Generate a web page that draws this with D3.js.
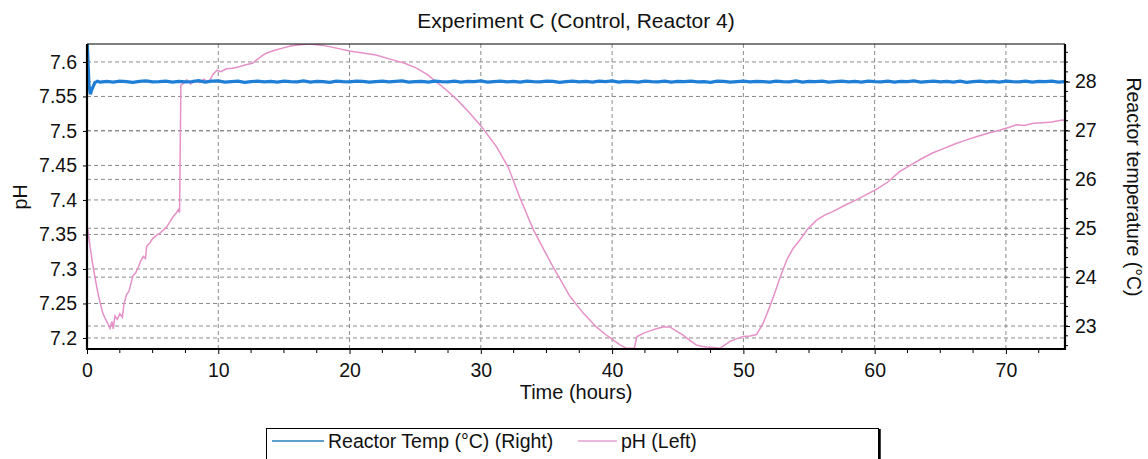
<!DOCTYPE html>
<html>
<head>
<meta charset="utf-8">
<script src="https://cdn.jsdelivr.net/npm/d3@7"></script>
<style>
  body { margin: 0; background: #fff; }
  svg { font-family: "Liberation Sans", Arial, sans-serif; }
  .grid line { stroke: #8a8a8a; stroke-dasharray: 4,3; stroke-width: 1; }
  .axis path, .axis line { stroke: #000; }
  .axis text { font-size: 19.5px; fill: #111; }
</style>
</head>
<body>
<svg class="chart" width="1148" height="459"></svg>
<script>
var title = "Experiment C (Control, Reactor 4)"
var hourTicks = [0, 10, 20, 30, 40, 50, 60, 70]
var phTicks = [7.2, 7.25, 7.3, 7.35, 7.4, 7.45, 7.5, 7.55, 7.6]
var phTickLabels = ["7.2", "7.25", "7.3", "7.35", "7.4", "7.45", "7.5", "7.55", "7.6"]
var tempTicks = [23, 24, 25, 26, 27, 28]
var legendNames = ["Reactor Temp (°C) (Right)", "pH (Left)"]

// [hour, degC]
var tempReadings = [
  [0, 28.95], [0.08, 28.4], [0.15, 27.95], [0.25, 27.74], [0.4, 27.86], [0.6, 27.98], [0.8, 28.01], [1.0, 27.99],
  [1.5, 28.005], [2.0, 27.99], [2.5, 28.01], [3.0, 28.0], [3.5, 27.985], [4.0, 28.005], [4.5, 28.015], [5.0, 27.995],
  [5.5, 28.0], [6.0, 28.01], [6.5, 27.99], [7.0, 28.005], [7.5, 27.995], [8.0, 28.0], [8.5, 28.02], [9.0, 27.99],
  [9.5, 28.01], [10.0, 28.015], [10.5, 27.99], [11.0, 28.0], [11.5, 28.01], [12.0, 27.985], [12.5, 28.0], [13.0, 28.01],
  [13.5, 27.995], [14.0, 28.005], [14.5, 27.99], [15.0, 28.01], [15.5, 28.0], [16.0, 27.995], [16.5, 28.015], [17.0, 27.99],
  [17.5, 28.005], [18.0, 28.0], [18.5, 27.985], [19.0, 28.01], [19.5, 28.0], [20.0, 27.995], [20.5, 28.01], [21.0, 28.005],
  [21.5, 27.99], [22.0, 28.0], [22.5, 28.01], [23.0, 27.995], [23.5, 28.005], [24.0, 28.015], [24.5, 27.99], [25.0, 28.0],
  [25.5, 28.005], [26.0, 27.99], [26.5, 28.01], [27.0, 28.0], [27.5, 27.995], [28.0, 28.01], [28.5, 27.99], [29.0, 28.005],
  [29.5, 28.0], [30.0, 28.015], [30.5, 27.99], [31.0, 28.0], [31.5, 28.01], [32.0, 27.995], [32.5, 28.005], [33.0, 27.99],
  [33.5, 28.01], [34.0, 28.0], [34.5, 27.995], [35.0, 28.01], [35.5, 28.005], [36.0, 27.985], [36.5, 28.0], [37.0, 28.01],
  [37.5, 27.995], [38.0, 28.005], [38.5, 27.99], [39.0, 28.01], [39.5, 28.0], [40.0, 28.015], [40.5, 27.99], [41.0, 28.005],
  [41.5, 28.0], [42.0, 27.99], [42.5, 28.01], [43.0, 28.0], [43.5, 27.995], [44.0, 28.01], [44.5, 27.99], [45.0, 28.005],
  [45.5, 28.0], [46.0, 28.01], [46.5, 27.995], [47.0, 28.0], [47.5, 27.985], [48.0, 28.01], [48.5, 28.005], [49.0, 27.99],
  [49.5, 28.0], [50.0, 28.01], [50.5, 27.995], [51.0, 28.005], [51.5, 28.0], [52.0, 27.99], [52.5, 28.01], [53.0, 28.0],
  [53.5, 27.995], [54.0, 28.015], [54.5, 27.99], [55.0, 28.005], [55.5, 28.0], [56.0, 28.01], [56.5, 27.99], [57.0, 28.0],
  [57.5, 28.01], [58.0, 27.995], [58.5, 28.005], [59.0, 27.99], [59.5, 28.01], [60.0, 28.0], [60.5, 27.995], [61.0, 28.01],
  [61.5, 27.99], [62.0, 28.005], [62.5, 28.0], [63.0, 28.015], [63.5, 27.99], [64.0, 28.0], [64.5, 28.01], [65.0, 27.995],
  [65.5, 28.005], [66.0, 27.99], [66.5, 28.01], [67.0, 27.985], [67.5, 28.0], [68.0, 28.01], [68.5, 27.995], [69.0, 28.005],
  [69.5, 27.99], [70.0, 28.01], [70.5, 28.0], [71.0, 27.995], [71.5, 28.01], [72.0, 27.99], [72.5, 28.005], [73.0, 28.0],
  [73.5, 28.01], [74.0, 27.99], [74.5, 28.0]
]

// [hour, pH]
var phReadings = [
  [0, 7.330], [0.05, 7.359], [0.25, 7.330], [0.45, 7.305], [0.6, 7.289], [0.8, 7.268], [1.0, 7.251], [1.2, 7.236],
  [1.37, 7.229], [1.55, 7.222], [1.75, 7.214], [1.9, 7.224], [2.0, 7.213], [2.13, 7.232], [2.3, 7.227], [2.5, 7.235],
  [2.7, 7.230], [2.8, 7.248], [3.0, 7.262], [3.2, 7.268], [3.5, 7.290], [3.7, 7.294], [3.9, 7.302], [4.1, 7.312],
  [4.3, 7.318], [4.45, 7.315], [4.55, 7.333], [4.8, 7.338], [5.0, 7.344], [5.3, 7.349], [5.5, 7.351], [5.8, 7.356],
  [6.07, 7.361], [6.3, 7.368], [6.57, 7.376], [6.8, 7.381], [6.95, 7.386], [7.05, 7.382], [7.1, 7.470], [7.15, 7.566],
  [7.4, 7.570], [7.6, 7.574], [7.9, 7.568], [8.2, 7.573], [8.6, 7.570], [8.9, 7.575], [9.2, 7.571], [9.4, 7.575],
  [9.6, 7.582], [9.9, 7.588], [10.2, 7.586], [10.6, 7.590], [11.1, 7.591], [11.6, 7.593], [12.1, 7.596], [12.6, 7.598],
  [13.0, 7.604], [13.4, 7.610], [13.7, 7.613], [14.3, 7.617], [14.9, 7.620], [15.5, 7.623], [16.2, 7.625], [17.0, 7.626],
  [18.0, 7.624], [19.0, 7.620], [20.0, 7.616], [21.0, 7.613], [22.0, 7.610], [23.3, 7.603], [24.2, 7.598], [25.1, 7.591],
  [25.9, 7.582], [26.6, 7.571], [27.4, 7.559], [28.2, 7.545], [29.1, 7.527], [30.06, 7.506], [31.2, 7.477], [32.1, 7.447],
  [33.0, 7.402], [34.0, 7.357], [34.8, 7.328], [35.5, 7.303], [36.2, 7.280], [36.8, 7.260], [37.8, 7.236], [38.8, 7.216],
  [39.5, 7.205], [40.1, 7.197], [40.6, 7.190], [41.1, 7.185], [41.7, 7.185], [41.8, 7.195], [41.9, 7.202], [42.4, 7.207],
  [43.0, 7.211], [43.5, 7.214], [43.9, 7.216], [44.4, 7.216], [44.9, 7.210], [45.4, 7.204], [45.9, 7.197], [46.4, 7.190],
  [46.8, 7.188], [47.2, 7.187], [47.7, 7.186], [48.2, 7.185], [48.6, 7.190], [49.0, 7.195], [49.5, 7.199], [50.0, 7.202],
  [50.5, 7.203], [51.0, 7.205], [51.5, 7.221], [51.9, 7.240], [52.3, 7.260], [52.8, 7.288], [53.3, 7.313], [53.8, 7.330],
  [54.3, 7.342], [54.9, 7.358], [55.6, 7.371], [56.2, 7.378], [56.8, 7.383], [57.7, 7.392], [58.6, 7.400], [59.4, 7.408],
  [60.2, 7.416], [61.0, 7.426], [61.9, 7.441], [62.6, 7.449], [63.5, 7.459], [64.4, 7.468], [65.2, 7.474], [66.1, 7.481],
  [67.0, 7.487], [67.8, 7.492], [68.7, 7.497], [69.5, 7.501], [70.2, 7.505], [70.8, 7.509], [71.4, 7.508], [72.1, 7.511],
  [72.8, 7.512], [73.5, 7.513], [74.3, 7.516], [74.5, 7.515]
]

var blue = "#1f7fd6"
var pink = "#e590c8"

var plotLeft = 87, plotRight = 1065, plotTop = 44, plotBottom = 349

var svg = d3.select(".chart")

var x = d3.scaleLinear().domain([0, 74.5]).range([plotLeft, plotRight])
var yPH = d3.scaleLinear().domain([7.184, 7.626]).range([plotBottom, plotTop])
var yT = d3.scaleLinear().domain([22.53, 28.77]).range([plotBottom, plotTop])

// grid
var grid = svg.append("g").attr("class", "grid")
grid.selectAll(".gx").data(hourTicks.slice(1))
  .enter().append("line")
  .attr("x1", d => x(d)).attr("x2", d => x(d))
  .attr("y1", plotTop).attr("y2", plotBottom)
grid.selectAll(".gp").data(phTicks)
  .enter().append("line")
  .attr("x1", plotLeft).attr("x2", plotRight)
  .attr("y1", d => yPH(d)).attr("y2", d => yPH(d))
grid.selectAll(".gt").data(tempTicks)
  .enter().append("line")
  .attr("x1", plotLeft).attr("x2", plotRight)
  .attr("y1", d => yT(d)).attr("y2", d => yT(d))

svg.append("clipPath").attr("id", "plot")
  .append("rect").attr("x", plotLeft).attr("y", plotTop)
  .attr("width", plotRight - plotLeft).attr("height", plotBottom - plotTop)

var lines = svg.append("g").attr("clip-path", "url(#plot)")

lines.append("path")
  .datum(phReadings)
  .attr("fill", "none")
  .attr("stroke", pink)
  .attr("stroke-width", 1.5)
  .attr("d", d3.line().x(d => x(d[0])).y(d => yPH(d[1])))

lines.append("path")
  .datum(tempReadings)
  .attr("fill", "none")
  .attr("stroke", blue)
  .attr("stroke-width", 3.2)
  .attr("d", d3.line().x(d => x(d[0])).y(d => yT(d[1])))

// axes
var xAxis = svg.append("g").attr("class", "axis")
  .attr("transform", "translate(0," + plotBottom + ")")
  .call(d3.axisBottom(x).tickValues(hourTicks).tickSize(5).tickPadding(9).tickFormat(d3.format("d")))
xAxis.selectAll(".minor").data(d3.range(2.5, 74.5, 2.5).filter(d => d % 10 != 0))
  .enter().append("line").attr("class", "minor")
  .attr("x1", d => x(d)).attr("x2", d => x(d))
  .attr("y1", 0).attr("y2", 4)
  .attr("stroke", "#000")

var yAxisL = svg.append("g").attr("class", "axis")
  .attr("transform", "translate(" + plotLeft + ",0)")
  .call(d3.axisLeft(yPH).tickValues(phTicks).tickSize(4).tickPadding(6)
    .tickFormat((d, i) => phTickLabels[i]))

var yAxisR = svg.append("g").attr("class", "axis")
  .attr("transform", "translate(" + plotRight + ",0)")
  .call(d3.axisRight(yT).tickValues(tempTicks).tickSize(5).tickPadding(5).tickFormat(d3.format("d")))
yAxisR.selectAll(".minor").data(d3.range(22.6, 28.8, 0.2))
  .enter().append("line").attr("class", "minor")
  .attr("x1", 0).attr("x2", 3)
  .attr("y1", d => yT(d)).attr("y2", d => yT(d))
  .attr("stroke", "#000")

svg.selectAll(".axis .domain").remove()

// frame
svg.append("line").attr("x1", plotLeft).attr("x2", plotRight).attr("y1", plotTop).attr("y2", plotTop)
  .attr("stroke", "#000").attr("stroke-width", 1.2)
svg.append("line").attr("x1", plotLeft).attr("x2", plotLeft).attr("y1", plotTop).attr("y2", plotBottom + 1)
  .attr("stroke", "#000").attr("stroke-width", 2.2)
svg.append("line").attr("x1", plotRight).attr("x2", plotRight).attr("y1", plotTop).attr("y2", plotBottom + 1)
  .attr("stroke", "#000").attr("stroke-width", 2.2)
svg.append("line").attr("x1", plotLeft - 1).attr("x2", plotRight + 1).attr("y1", plotBottom).attr("y2", plotBottom)
  .attr("stroke", "#000").attr("stroke-width", 2.2)

// titles
svg.append("text")
  .attr("x", (plotLeft + plotRight) / 2).attr("y", 28)
  .attr("text-anchor", "middle")
  .style("font-size", "21px").attr("fill", "#111")
  .text(title)

svg.append("text")
  .attr("x", (plotLeft + plotRight) / 2).attr("y", 399)
  .attr("text-anchor", "middle")
  .style("font-size", "20px").attr("fill", "#111")
  .text("Time (hours)")

svg.append("text")
  .attr("transform", "translate(27,197) rotate(-90)")
  .attr("text-anchor", "middle")
  .style("font-size", "19.5px").attr("fill", "#111")
  .text("pH")

svg.append("text")
  .attr("transform", "translate(1127,187) rotate(90)")
  .attr("text-anchor", "middle")
  .style("font-size", "19.5px").attr("fill", "#111")
  .text("Reactor temperature (°C)")

// legend
var legend = svg.append("g")
legend.append("rect")
  .attr("x", 266.5).attr("y", 428.5).attr("width", 612).attr("height", 40)
  .attr("fill", "#fff").attr("stroke", "#000").attr("stroke-width", 1)
legend.append("line")
  .attr("x1", 879.5).attr("x2", 879.5).attr("y1", 429).attr("y2", 459)
  .attr("stroke", "#000").attr("stroke-width", 2.5)

var legendItems = [
  {name: legendNames[0], color: "#2a7fc0", x0: 272, x1: 324, tx: 328},
  {name: legendNames[1], color: "#e3a0d2", x0: 578, x1: 617, tx: 621}
]
legend.selectAll(".lline").data(legendItems)
  .enter().append("line")
  .attr("x1", d => d.x0).attr("x2", d => d.x1)
  .attr("y1", 441).attr("y2", 441)
  .attr("stroke", d => d.color).attr("stroke-width", 1.3)
legend.selectAll(".ltext").data(legendItems)
  .enter().append("text")
  .attr("x", d => d.tx).attr("y", 448)
  .style("font-size", "19.5px").attr("fill", "#111")
  .text(d => d.name)
</script>
</body>
</html>
